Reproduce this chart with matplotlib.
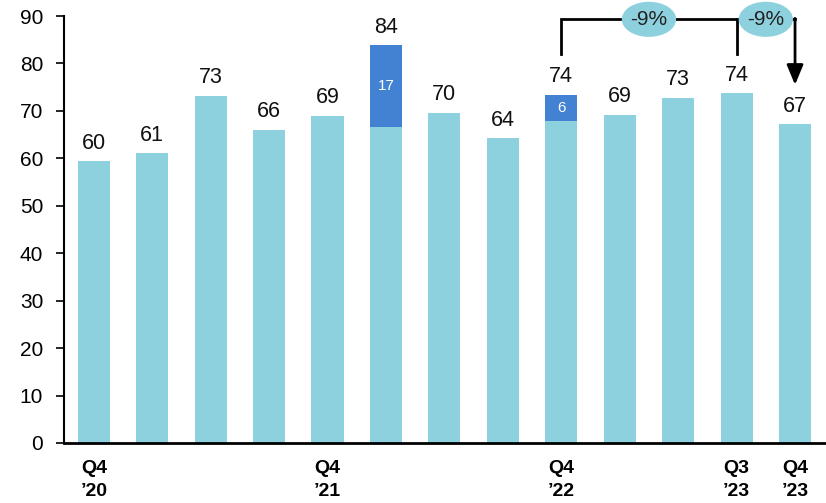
import matplotlib
matplotlib.use("Agg")
import matplotlib.pyplot as plt
from matplotlib.patches import Ellipse

# ---- data ----
base_values = [59.4, 61.1, 73.2, 66.0, 69.0, 66.7, 69.6, 64.2, 67.9, 69.2, 72.7, 73.7, 67.2]
extra_values = [0, 0, 0, 0, 0, 17.1, 0, 0, 5.5, 0, 0, 0, 0]
total_labels = ["60", "61", "73", "66", "69", "84", "70", "64", "74", "69", "73", "74", "67"]
extra_labels = {5: "17", 8: "6"}
tick_labels = ["Q4\n\u201920", "", "", "", "Q4\n\u201921", "", "", "", "Q4\n\u201922", "", "", "Q3\n\u201923", "Q4\n\u201923"]
change_labels = ["-9%", "-9%"]

light = "#8ED1DE"
dark = "#4382D3"

plt.rcParams['font.family'] = ['Liberation Sans', 'DejaVu Sans']

W, H = 826, 503
fig = plt.figure(figsize=(W / 100, H / 100), dpi=100)
ax = fig.add_axes([64 / W, (H - 443) / H, (W - 64) / W, (443 - 16) / H])

x = list(range(len(base_values)))
ax.bar(x, base_values, width=0.55, color=light, edgecolor='none')
bottoms = base_values
ax.bar(x, extra_values, width=0.55, bottom=bottoms, color=dark, edgecolor='none')

for i in x:
    top = base_values[i] + extra_values[i]
    ax.text(i, top + 1.6, total_labels[i], ha='center', va='bottom', fontsize=15.5, color='#111111')
    if i in extra_labels:
        ax.text(i, base_values[i] + extra_values[i] / 2, extra_labels[i], ha='center', va='center',
                fontsize=11, color='white')

ax.set_xlim(-0.51, 12.53)
ax.set_ylim(0, 90)
ax.set_yticks(range(0, 91, 10))
ax.tick_params(axis='y', labelsize=15, length=6, width=1.2, direction='out', pad=9)
ax.set_xticks(x)
ax.set_xticklabels(tick_labels, fontsize=14, fontweight='bold', family=['Liberation Sans Narrow', 'Liberation Sans'],
                   linespacing=1.5)
ax.tick_params(axis='x', length=0, pad=12)
for s in ['top', 'right']:
    ax.spines[s].set_visible(False)
ax.spines['left'].set_linewidth(1.5)
ax.spines['bottom'].set_linewidth(2)

# bracket annotation
y_top = 89.3
y_low = 81.9
lw = 2
ax.plot([8, 8, 11, 11], [y_low, y_top, y_top, y_low], color='black', lw=lw, clip_on=False,
        solid_joinstyle='miter')
ax.plot([11, 12], [y_top, y_top], color='black', lw=lw, clip_on=False)
ax.annotate("", xy=(12, 75.5), xytext=(12, y_top + 0.2),
            arrowprops=dict(arrowstyle='-|>,head_width=0.5,head_length=1.2', color='black', lw=lw,
                            shrinkA=0, shrinkB=0), annotation_clip=False)
for cx, lab in zip([9.5, 11.5], change_labels):
    e = Ellipse((cx, y_top), width=0.93, height=7.4, facecolor=light, edgecolor='none', clip_on=False, zorder=5)
    ax.add_patch(e)
    ax.text(cx, y_top, lab, ha='center', va='center', fontsize=15, color='#222222', zorder=6)

fig.savefig("out.png", dpi=100)
